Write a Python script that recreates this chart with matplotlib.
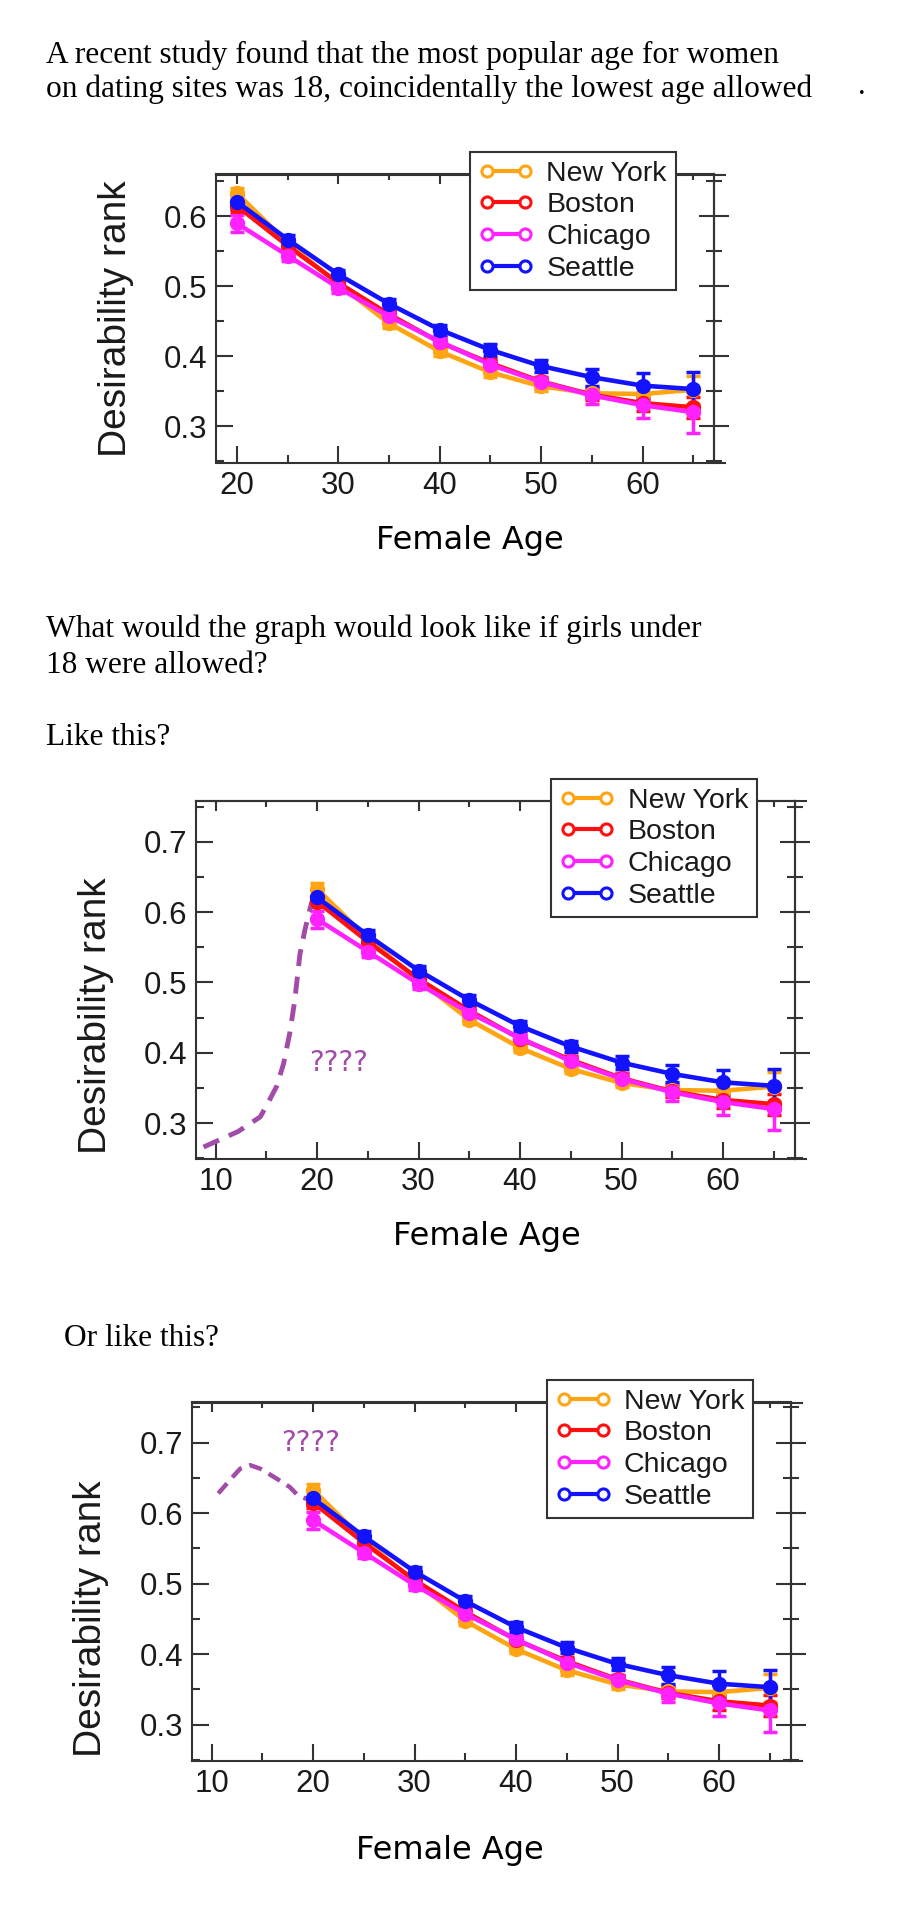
import matplotlib
matplotlib.use('Agg')
import matplotlib.pyplot as plt
from matplotlib.lines import Line2D
from matplotlib.ticker import MultipleLocator

W, H = 923, 1909

ages = [20, 25, 30, 35, 40, 45, 50, 55, 60, 65]
cities = ['New York', 'Boston', 'Chicago', 'Seattle']
colors = ['#FFA514', '#FF1010', '#FF22FF', '#1212FF']

new_york = [0.633, 0.562, 0.503, 0.447, 0.407, 0.377, 0.357, 0.347, 0.346, 0.352]
boston = [0.615, 0.558, 0.505, 0.460, 0.420, 0.390, 0.364, 0.345, 0.333, 0.327]
chicago = [0.590, 0.544, 0.498, 0.457, 0.421, 0.388, 0.363, 0.344, 0.330, 0.320]
seattle = [0.621, 0.567, 0.517, 0.475, 0.438, 0.409, 0.386, 0.370, 0.358, 0.353]

new_york_err = [0.008, 0.006, 0.006, 0.006, 0.006, 0.006, 0.006, 0.008, 0.010, 0.020]
boston_err = [0.008, 0.006, 0.006, 0.006, 0.006, 0.006, 0.007, 0.008, 0.012, 0.015]
chicago_err = [0.012, 0.008, 0.007, 0.007, 0.007, 0.007, 0.008, 0.012, 0.018, 0.030]
seattle_err = [0.010, 0.007, 0.007, 0.007, 0.007, 0.008, 0.009, 0.012, 0.018, 0.024]

series = [new_york, boston, chicago, seattle]
errors = [new_york_err, boston_err, chicago_err, seattle_err]

# guessed curves for under 18
like_x = [8.8, 12.2, 14.4, 15.2, 16.0, 16.7, 17.3, 17.8, 18.3, 18.8, 19.3, 19.8]
like_y = [0.266, 0.288, 0.309, 0.330, 0.352, 0.385, 0.428, 0.475, 0.540, 0.575, 0.605, 0.630]
or_x = [10.65, 11.8, 12.8, 13.8, 14.8, 16.4, 17.7, 18.5, 19.4]
or_y = [0.628, 0.647, 0.663, 0.668, 0.663, 0.649, 0.637, 0.625, 0.620]

purple = '#A24BA8'
dark = '#333333'
sans = 'Liberation Sans'
serif = 'Liberation Serif'

fig = plt.figure(figsize=(W / 100, H / 100), dpi=100)


def fx(x):
    return x / W


def fy(y):
    return 1 - y / H


def panel(box, xlim, ylim, leg_xy, ylab_xy, xlab_xy):
    left, top, right, bottom = box
    ax = fig.add_axes([fx(left), fy(bottom), (right - left) / W, (bottom - top) / H])
    for vals, errs, col in zip(series, errors, colors):
        ax.errorbar(ages, vals, yerr=errs, color=col, lw=3.3, marker='o', ms=10,
                    mfc=col, mec=col, elinewidth=2.5, capsize=5, capthick=2.5)
    ax.set_xlim(xlim)
    ax.set_ylim(ylim)
    ax.xaxis.set_major_locator(MultipleLocator(10))
    ax.xaxis.set_minor_locator(MultipleLocator(5))
    ax.yaxis.set_major_locator(MultipleLocator(0.1))
    ax.yaxis.set_minor_locator(MultipleLocator(0.05))
    ax.tick_params(which='major', direction='in', length=12, width=1.5, color=dark,
                   labelsize=22.5, labelcolor='#1a1a1a', pad=6)
    ax.tick_params(which='minor', direction='in', length=6, width=1.5, color=dark)
    for lab in ax.get_xticklabels() + ax.get_yticklabels():
        lab.set_family(sans)
    for s in ax.spines.values():
        s.set_linewidth(1.5)
        s.set_color(dark)

    sx = ax.secondary_xaxis('top')
    sx.xaxis.set_major_locator(MultipleLocator(10))
    sx.xaxis.set_minor_locator(MultipleLocator(5))
    sx.tick_params(which='major', direction='in', length=7, width=1.5, color=dark, labeltop=False)
    sx.tick_params(which='minor', direction='in', length=4, width=1.5, color=dark)
    sx.spines['top'].set_linewidth(1.5)
    sx.spines['top'].set_color(dark)

    sy = ax.secondary_yaxis('right')
    sy.yaxis.set_major_locator(MultipleLocator(0.1))
    sy.yaxis.set_minor_locator(MultipleLocator(0.05))
    sy.tick_params(which='major', direction='inout', length=22, width=1.5, color=dark, labelright=False)
    sy.tick_params(which='minor', direction='inout', length=12, width=1.5, color=dark)
    sy.spines['right'].set_linewidth(1.5)
    sy.spines['right'].set_color(dark)

    # top and bottom frame lines run a little past the right edge
    ext = 1 + 11 / (right - left)
    for yy in (0, 1):
        ax.plot([1, ext], [yy, yy], transform=ax.transAxes, clip_on=False, color=dark, lw=1.5)

    handles = [Line2D([0], [0], color=c, lw=3, marker='o', ms=8, mfc='white', mec=c, mew=2.2)
               for c in colors]
    leg = fig.legend(handles, cities, loc='upper left',
                     bbox_to_anchor=(fx(leg_xy[0]), fy(leg_xy[1])),
                     bbox_transform=fig.transFigure, borderaxespad=0, numpoints=2,
                     prop={'family': sans, 'size': 20.5},
                     handlelength=1.95, handletextpad=0.45, borderpad=0.3, labelspacing=0.2,
                     fancybox=False, framealpha=1, edgecolor=dark)
    leg.get_frame().set_linewidth(1.5)
    for t in leg.get_texts():
        t.set_color('#1a1a1a')

    fig.text(fx(ylab_xy[0]), fy(ylab_xy[1]), 'Desirability rank', rotation=90, fontsize=28,
             family=sans, ha='center', va='center', color='#1a1a1a')
    fig.text(fx(xlab_xy[0]), fy(xlab_xy[1]), 'Female Age', fontsize=23, ha='center', va='center')
    return ax


fig.text(fx(46), fy(63), 'A recent study found that the most popular age for women',
         fontsize=22.6, family=serif, va='baseline')
fig.text(fx(46), fy(97), 'on dating sites was 18, coincidentally the lowest age allowed',
         fontsize=22.6, family=serif, va='baseline')
fig.text(fx(858), fy(94), '.', fontsize=22, family=serif, va='baseline')

ax1 = panel((215.7, 174.5, 714, 462.5), (17.9, 67.05), (0.248, 0.66),
            (469.6, 152), (116, 318.5), (470, 540))

fig.text(fx(46), fy(637), 'What would the graph would look like if girls under',
         fontsize=22.6, family=serif, va='baseline')
fig.text(fx(46), fy(673), '18 were allowed?', fontsize=22.6, family=serif, va='baseline')
fig.text(fx(46), fy(745), 'Like this?', fontsize=22.6, family=serif, va='baseline')

ax2 = panel((195.7, 801, 795, 1159), (8.03, 67.1), (0.249, 0.758),
            (550.7, 779), (96.4, 1016), (487, 1237))
ax2.plot(like_x, like_y, color=purple, lw=3.5, dashes=(3.5, 2.2), solid_capstyle='butt')
ax2.text(19.25, 0.386, '????', color=purple, fontsize=20, ha='left', va='center')

fig.text(fx(64), fy(1346), 'Or like this?', fontsize=22.6, family=serif, va='baseline')

ax3 = panel((191.7, 1402.5, 790.7, 1760.5), (8.03, 67.06), (0.249, 0.757),
            (547, 1380), (91.3, 1619), (450, 1851))
ax3.plot(or_x, or_y, color=purple, lw=3.2, dashes=(3, 1.8))
ax3.text(16.8, 0.699, '????', color=purple, fontsize=20, ha='left', va='center')

fig.savefig('out.png', dpi=100)
